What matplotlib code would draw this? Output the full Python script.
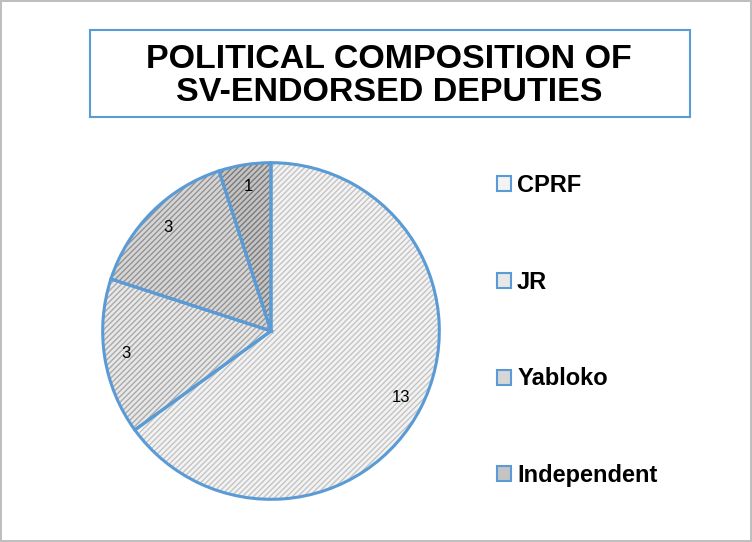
import matplotlib
matplotlib.use("Agg")
from matplotlib import pyplot as plt
from matplotlib.patches import Rectangle, Patch

# data
parties = ["CPRF", "JR", "Yabloko", "Independent"]
deputies = [13, 3, 3, 1]
fills = ["#f3f3f3", "#e8e8e8", "#d6d6d6", "#c4c4c4"]
hatch_cols = ["#c4c4c4", "#aaaaaa", "#939393", "#7a7a7a"]
blue = "#5b9bd5"

plt.rcParams["font.family"] = ["Liberation Sans", "DejaVu Sans"]
plt.rcParams["hatch.linewidth"] = 1.0

fig = plt.figure(figsize=(7.52, 5.42), dpi=100)
fig.patch.set_edgecolor("#bfbfbf")
fig.patch.set_linewidth(1.5)

W, H = 752, 542
cx, cy, r = 271, 331, 170
ax = fig.add_axes([(cx - r) / W, 1 - (cy + r) / H, 2 * r / W, 2 * r / H])

# hatched fill layer
wedges, _ = ax.pie(deputies, startangle=90, counterclock=False,
                   colors=fills, wedgeprops=dict(linewidth=0))
for w, hc in zip(wedges, hatch_cols):
    w.set_edgecolor(hc)
    w.set_hatch("//////")

# blue outline layer with value labels
outl, texts = ax.pie(deputies, startangle=90, counterclock=False,
                     labels=[str(v) for v in deputies], labeldistance=0.87,
                     wedgeprops=dict(fill=False, edgecolor=blue, linewidth=2.2),
                     textprops=dict(fontsize=12, color="black"))
for t in texts:
    t.set_ha("center")
    t.set_va("center")
ax.set_xlim(-1.01, 1.01)
ax.set_ylim(-1.01, 1.01)
ax.set_aspect("equal")

# title box
fig.add_artist(Rectangle((90 / W, 1 - 117 / H), 600 / W, 87 / H,
                         transform=fig.transFigure, fill=False,
                         edgecolor=blue, linewidth=1.5))
fig.text(389 / W, 1 - 76 / H, "POLITICAL COMPOSITION OF\nSV-ENDORSED DEPUTIES",
         ha="center", va="center", fontsize=24.5, fontweight="bold",
         linespacing=1.08)

handles = [Patch(facecolor=f, edgecolor=blue, linewidth=1.5) for f in fills]
leg = fig.legend(handles, parties, loc="upper left",
                 bbox_to_anchor=(497 / W, 1 - 174 / H), frameon=False,
                 prop=dict(size=17, weight="bold"),
                 handlelength=0.6, handleheight=0.6, handletextpad=0.25,
                 labelspacing=3.12, borderaxespad=0, borderpad=0)

plt.savefig("out.png", dpi=100)
